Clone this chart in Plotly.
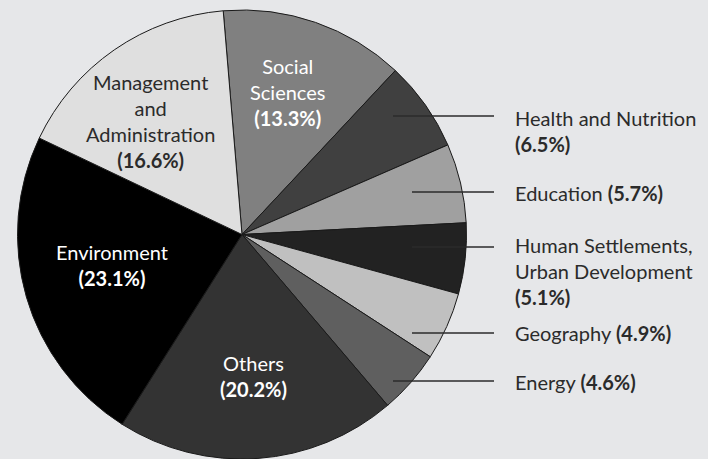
import plotly.graph_objects as go

# Data (clockwise from top)
labels = ["Social Sciences", "Health and Nutrition", "Education",
          "Human Settlements, Urban Development", "Geography", "Energy",
          "Others", "Environment", "Management and Administration"]
shares = [13.3, 6.5, 5.7, 5.1, 4.9, 4.6, 20.2, 23.1, 16.6]
colors = ["#808080", "#404040", "#a0a0a0", "#222222", "#c0c0c0",
          "#5f5f5f", "#333333", "#000000", "#dfdfdf"]

# label text lines (as printed on the chart)
label_lines = {
    "Social Sciences": ["Social", "Sciences"],
    "Health and Nutrition": ["Health and Nutrition"],
    "Education": ["Education"],
    "Human Settlements, Urban Development": ["Human Settlements,", "Urban Development"],
    "Geography": ["Geography"],
    "Energy": ["Energy"],
    "Others": ["Others"],
    "Environment": ["Environment"],
    "Management and Administration": ["Management", "and", "Administration"],
}

W, H = 708, 459
BG = "#e6e7e9"
FONT = "Lato"
FS = 20

# label placement in pixels
inside_pos = {
    "Social Sciences": (287, 92, "white"),
    "Others": (253, 376, "white"),
    "Environment": (112, 265, "white"),
    "Management and Administration": (150, 121, "#2b2b2b"),
}
# x, y, value on new line, leader y, leader start x
outside_pos = {
    "Health and Nutrition": (513, 131, True, 116, 393),
    "Education": (513, 193, False, 192, 412),
    "Human Settlements, Urban Development": (513, 271, True, 247, 412),
    "Geography": (513, 333, False, 333, 412),
    "Energy": (513, 382, False, 381, 393),
}

fig = go.Figure(go.Pie(
    labels=labels, values=shares, sort=False, direction="clockwise",
    rotation=-4.8, textinfo="none", hoverinfo="label+percent",
    marker=dict(colors=colors, line=dict(color="#1a1a1a", width=1)),
    domain=dict(x=[17 / W, 467 / W], y=[0, 1 - 10 / H]),
    showlegend=False,
))

def px_x(x):
    return x / W

def px_y(y):
    return 1 - y / H

annotations = []
shapes = []
for name, val in zip(labels, shares):
    lines = label_lines[name]
    pct = "<b>(%.1f%%)</b>" % val
    if name in inside_pos:
        x, y, col = inside_pos[name]
        text = "<br>".join(lines + [pct])
        annotations.append(dict(x=px_x(x), y=px_y(y), xref="paper", yref="paper",
                                text=text, showarrow=False, xanchor="center",
                                yanchor="middle", align="center",
                                font=dict(family=FONT, size=FS, color=col)))
    else:
        x, y, newline, ly, lx0 = outside_pos[name]
        if newline:
            text = "<br>".join(lines + [pct])
        else:
            text = lines[0] + " " + pct
        annotations.append(dict(x=px_x(x), y=px_y(y), xref="paper", yref="paper",
                                text=text, showarrow=False, xanchor="left",
                                yanchor="middle", align="left",
                                font=dict(family=FONT, size=FS, color="#2b2b2b")))
        shapes.append(dict(type="line", xref="paper", yref="paper",
                           x0=px_x(lx0), x1=px_x(494), y0=px_y(ly), y1=px_y(ly),
                           line=dict(color="#2b2b2b", width=1.3)))

fig.update_layout(
    width=W, height=H,
    margin=dict(t=0, b=0, l=0, r=0),
    paper_bgcolor=BG, plot_bgcolor=BG,
    font=dict(family=FONT),
    annotations=annotations, shapes=shapes,
)

fig.write_html("out.html", config={"displayModeBar": False}, post_script=(
    "document.body.style.margin='0';"
    "document.body.style.background='%s';" % BG))
